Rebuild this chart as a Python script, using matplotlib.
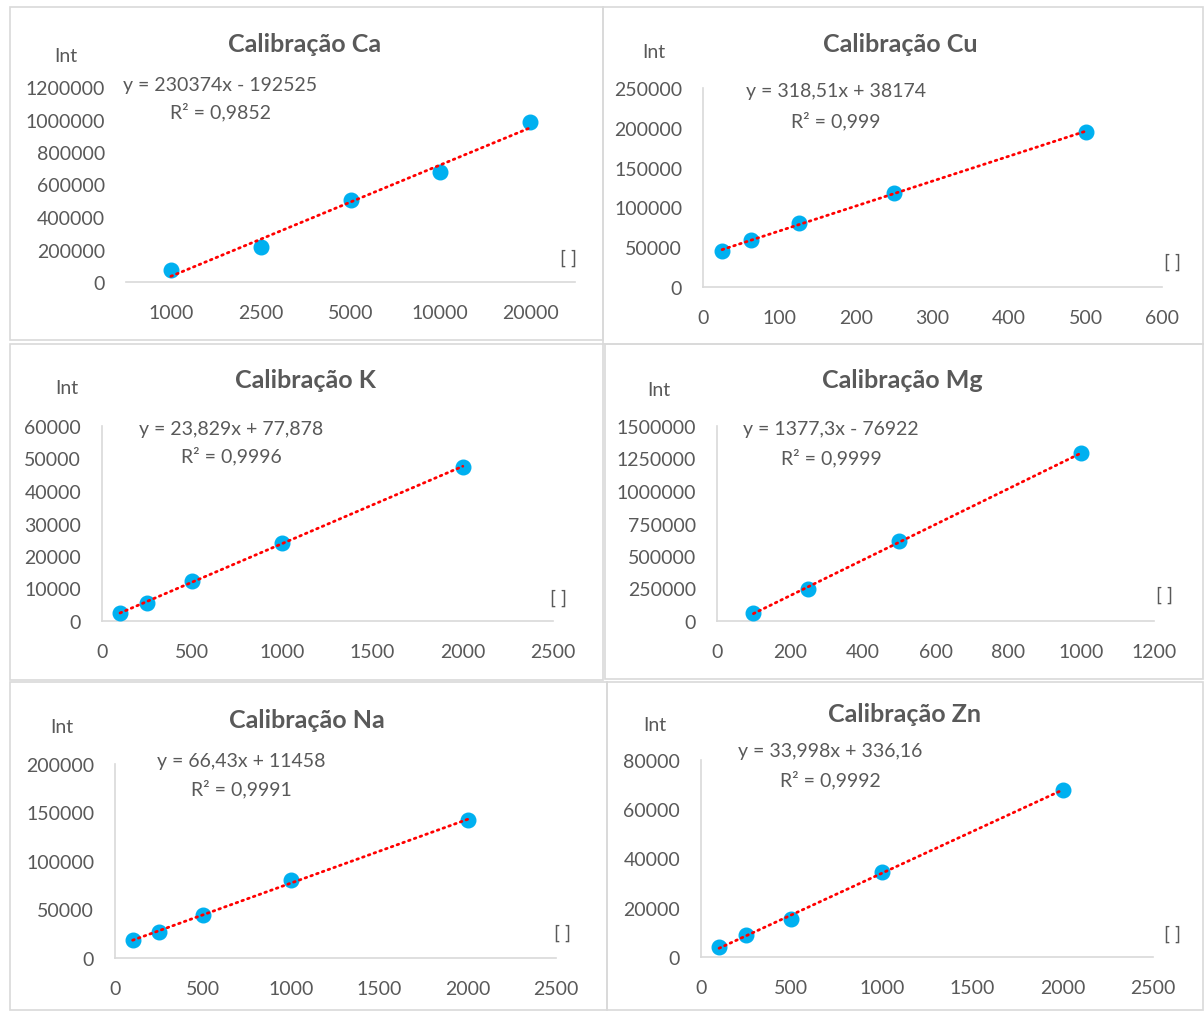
import matplotlib.pyplot as plt
import numpy as np
from matplotlib.patches import Rectangle

# calibration data
ca_labels = ['1000', '2500', '5000', '10000', '20000']
ca_y = [75000, 215000, 505000, 680000, 985000]

cu_x = [25, 62.5, 125, 250, 500]
cu_y = [45000, 59000, 80000, 118000, 195000]

k_x = [100, 250, 500, 1000, 2000]
k_y = [2500, 5600, 12300, 24000, 47500]

mg_x = [100, 250, 500, 1000]
mg_y = [62000, 250000, 615000, 1290000]

na_x = [100, 250, 500, 1000, 2000]
na_y = [18500, 27000, 44000, 80000, 142000]

zn_x = [100, 250, 500, 1000, 2000]
zn_y = [4200, 8900, 15600, 34500, 67900]

eqs = {
    'Ca': ('y = 230374x - 192525', 'R² = 0,9852'),
    'Cu': ('y = 318,51x + 38174', 'R² = 0,999'),
    'K': ('y = 23,829x + 77,878', 'R² = 0,9996'),
    'Mg': ('y = 1377,3x - 76922', 'R² = 0,9999'),
    'Na': ('y = 66,43x + 11458', 'R² = 0,9991'),
    'Zn': ('y = 33,998x + 336,16', 'R² = 0,9992'),
}

W, H = 1204, 1012
GRAY = '#595959'
LINE = '#D9D9D9'
BLUE = '#00B0F0'
plt.rcParams['font.family'] = ['Lato', 'DejaVu Sans']

fig = plt.figure(figsize=(W / 100, H / 100), dpi=100)


def ftext(x, y, s, **kw):
    fig.text(x / W, 1 - y / H, s, ha=kw.pop('ha', 'center'), va='center', color=GRAY, **kw)


# panel borders
for x0, y0, x1, y1 in [(10, 8, 603, 341), (603, 8, 1203, 345), (10, 345, 603, 681),
                       (605, 345, 1203, 680), (10, 683, 607, 1011), (607, 683, 1203, 1011)]:
    fig.patches.append(Rectangle((x0 / W, 1 - y1 / H), (x1 - x0) / W, (y1 - y0) / H,
                                 transform=fig.transFigure, fill=False, edgecolor=LINE, lw=1.2))

panels = [
    # name, x, y, axes px box (x0, x1, ytop, ybot), xlim, xstep, ymax, ystep, title, Int, equation, bracket
    ('Ca', None, ca_y, (126, 575, 88, 283), (-0.5, 4.5), None, 1200000, 200000, (305, 44), (66, 57), (220, 86, 112), (569, 258)),
    ('Cu', cu_x, cu_y, (703, 1162, 89, 288), (0, 600), 100, 250000, 50000, (900, 44), (654, 52), (836, 92, 121), (1172, 262)),
    ('K', k_x, k_y, (102, 553, 427, 622), (0, 2500), 500, 60000, 10000, (305, 381), (67, 389), (231, 429, 456), (558, 598)),
    ('Mg', mg_x, mg_y, (717, 1154, 427, 622), (0, 1200), 200, 1500000, 250000, (902, 381), (659, 390), (831, 430, 458), (1164, 595)),
    ('Na', na_x, na_y, (115, 556, 765, 959), (0, 2500), 500, 200000, 50000, (307, 720), (62, 728), (241, 762, 789), (563, 933)),
    ('Zn', zn_x, zn_y, (701, 1153, 761, 958), (0, 2500), 500, 80000, 20000, (904, 715), (655, 726), (830, 751, 780), (1172, 934)),
]

for name, xs, ys, box, xlim, xstep, ymax, ystep, tpos, ipos, epos, bpos in panels:
    x0, x1, yt, yb = box
    ax = fig.add_axes([x0 / W, 1 - yb / H, (x1 - x0) / W, (yb - yt) / H])
    ys = np.array(ys, dtype=float)
    if xs is None:
        pos = np.arange(len(ys))
        coef = np.polyfit(pos + 1, ys, 1)
        fit = np.polyval(coef, pos + 1)
        ax.set_xticks(pos)
        ax.set_xticklabels(ca_labels)
        ax.spines['left'].set_visible(False)
    else:
        pos = np.array(xs, dtype=float)
        coef = np.polyfit(pos, ys, 1)
        fit = np.polyval(coef, pos)
        ax.set_xticks(np.arange(xlim[0], xlim[1] + 1, xstep))
        ax.spines['left'].set_color(LINE)
    ax.plot(pos, ys, 'o', color=BLUE, markersize=10.5, zorder=3, clip_on=False)
    ax.plot(pos, fit, color='#FF0000', lw=2.0, linestyle=(0, (0.6, 1.6)),
            dash_capstyle='round', zorder=4, clip_on=False)
    ax.set_xlim(*xlim)
    ax.set_ylim(0, ymax)
    ax.set_yticks(np.arange(0, ymax + 1, ystep))
    ax.yaxis.set_major_formatter(plt.FuncFormatter(lambda v, p: f'{int(v)}'))
    for s in ['top', 'right']:
        ax.spines[s].set_visible(False)
    ax.spines['bottom'].set_color(LINE)
    ax.spines['bottom'].set_linewidth(1.2)
    ax.spines['left'].set_linewidth(1.2)
    ax.tick_params(length=0, labelsize=14, labelcolor=GRAY)
    ax.tick_params(axis='y', pad=15)
    ax.tick_params(axis='x', pad=16)
    ax.patch.set_alpha(0)

    ftext(tpos[0], tpos[1], f'Calibração {name}', fontsize=18, fontweight='bold')
    ftext(ipos[0], ipos[1], 'Int', fontsize=14)
    ftext(epos[0], epos[1], eqs[name][0], fontsize=14)
    ftext(epos[0], epos[2], eqs[name][1], fontsize=14)
    ftext(bpos[0], bpos[1], '[ ]', fontsize=14)

fig.savefig('out.png', dpi=100)
